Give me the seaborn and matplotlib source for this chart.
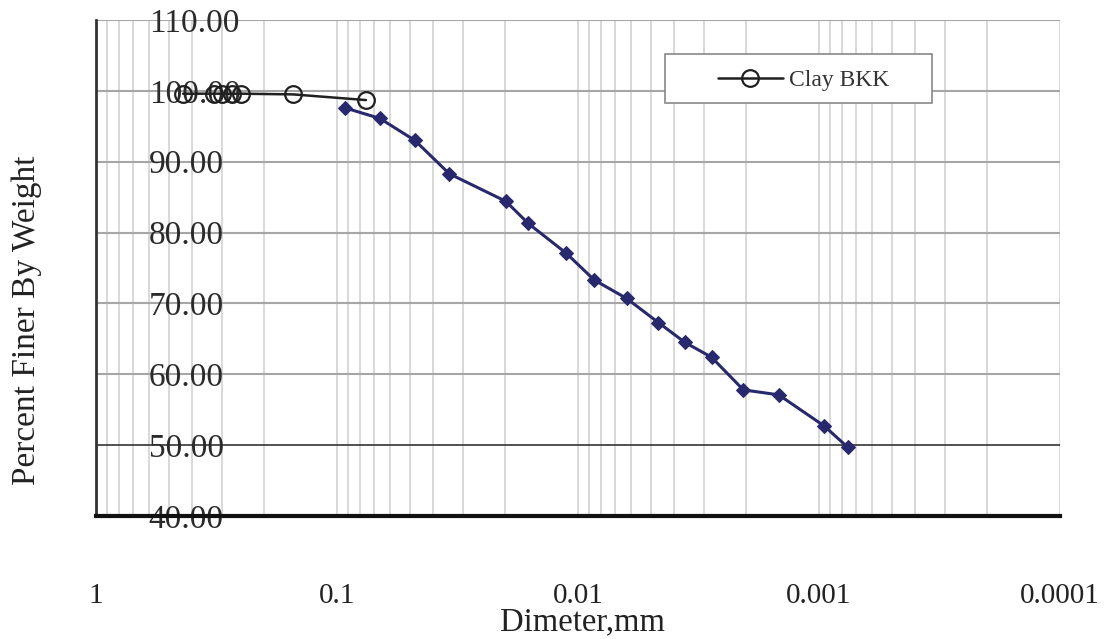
import matplotlib
matplotlib.use("Agg")
import matplotlib.pyplot as plt
import matplotlib.ticker as mticker
from matplotlib.patches import Rectangle
import numpy as np
import seaborn as sns

# grain size data
clay_diam = [0.435, 0.324, 0.300, 0.273, 0.250, 0.152, 0.0758]
clay_pct = [99.6, 99.6, 99.6, 99.6, 99.6, 99.5, 98.7]

hydro_diam = [0.0926, 0.0663, 0.0475, 0.0342, 0.0199, 0.0161, 0.0112, 0.00856,
              0.00628, 0.00464, 0.00360, 0.00279, 0.00206, 0.00147, 0.000951, 0.000760]
hydro_pct = [97.6, 96.1, 93.0, 88.3, 84.4, 81.3, 77.1, 73.3,
             70.7, 67.3, 64.5, 62.4, 57.8, 57.1, 52.7, 49.7]

x_ticks = [1, 0.1, 0.01, 0.001, 0.0001]
x_ticklabels = ["1", "0.1", "0.01", "0.001", "0.0001"]
y_ticks = [40, 50, 60, 70, 80, 90, 100, 110]

sns.set_style("white")
plt.rcParams["font.family"] = ["Liberation Serif", "DejaVu Serif"]

fig = plt.figure(figsize=(11.06, 6.39), dpi=100)
ax = fig.add_axes([96 / 1106, 1 - 516 / 639, 964 / 1106, 496 / 639])

sns.lineplot(x=hydro_diam, y=hydro_pct, ax=ax, sort=False, color="#28286e",
             linewidth=2.2, marker="D", markersize=7.5, markeredgecolor="#28286e",
             markerfacecolor="#28286e", zorder=3)
sns.lineplot(x=clay_diam, y=clay_pct, ax=ax, sort=False, color="#202020",
             linewidth=1.8, marker="o", markersize=12, markerfacecolor="none",
             markeredgecolor="#202020", markeredgewidth=1.6, label="Clay BKK", zorder=4)

ax.set_xscale("log")
ax.set_xlim(1, 0.0001)
ax.set_ylim(40, 110)

ax.xaxis.set_major_locator(mticker.FixedLocator(x_ticks))
ax.xaxis.set_major_formatter(mticker.FixedFormatter(x_ticklabels))
ax.xaxis.set_minor_locator(mticker.LogLocator(base=10, subs=np.arange(2, 10), numticks=20))
ax.xaxis.set_minor_formatter(mticker.NullFormatter())

ax.yaxis.set_major_locator(mticker.FixedLocator(y_ticks))
ax.yaxis.set_major_formatter(mticker.FormatStrFormatter("%.2f"))
ax.yaxis.set_minor_locator(mticker.MultipleLocator(2))

# grid
ax.grid(True, which="major", axis="y", color="#a6a6a6", linewidth=1.5)
ax.grid(True, which="both", axis="x", color="#d2d2d2", linewidth=1.2)
for gl, v in zip(ax.get_ygridlines(), y_ticks):
    if v == 50:
        gl.set_color("#333333")
        gl.set_linewidth(1.2)
ax.set_axisbelow(True)

for side in ["top", "right"]:
    ax.spines[side].set_visible(False)
ax.spines["left"].set_color("#333333")
ax.spines["left"].set_linewidth(2)
ax.spines["bottom"].set_color("#111111")
ax.spines["bottom"].set_linewidth(3)

ax.tick_params(axis="x", which="major", direction="out", length=11, width=1.2,
               color="#555555", labelsize=21, pad=37, labelcolor="#222222")
ax.tick_params(axis="x", which="minor", direction="in", length=7, width=1.2, color="#444444")
ax.tick_params(axis="y", which="major", direction="out", length=11, width=1.2,
               color="#555555", labelsize=24, pad=-49, labelcolor="#2a2a2a")
ax.tick_params(axis="y", which="minor", direction="in", length=8, width=1.2, color="#555555")
for lab in ax.get_yticklabels():
    lab.set_horizontalalignment("left")

ax.set_xlabel("Dimeter,mm", fontsize=23.5, color="#222222")
ax.set_ylabel("Percent Finer By Weight", fontsize=24, color="#222222")
ax.xaxis.set_label_coords(0.505, -0.183)
ax.yaxis.set_label_coords(-0.056, 0.395)

# legend with a wide flat frame
box = Rectangle((0.590, 0.833), 0.277, 0.098, transform=ax.transAxes,
                facecolor="white", edgecolor="#888888", linewidth=1.2, zorder=5)
ax.add_patch(box)
leg = ax.legend(loc="center", bbox_to_anchor=(0.734, 0.879), frameon=False,
                fontsize=17, handlelength=2.75, handletextpad=0.25)
leg.set_zorder(6)
for t in leg.get_texts():
    t.set_color("#333333")

fig.savefig("out.png", dpi=100)
